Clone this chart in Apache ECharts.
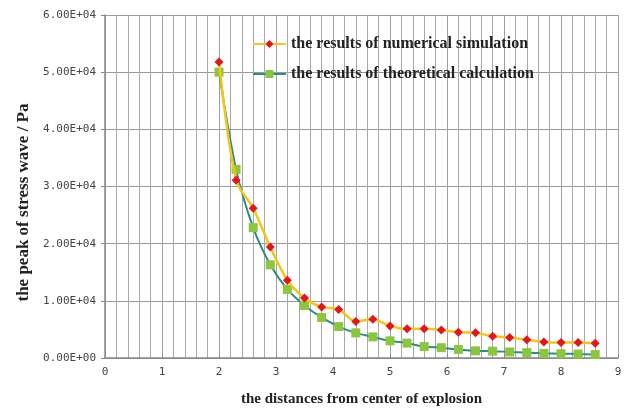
<!DOCTYPE html>
<html>
<head>
<meta charset="utf-8">
<script src="https://cdn.jsdelivr.net/npm/echarts@6/dist/echarts.min.js"></script>
<style>html,body{margin:0;padding:0;background:#fff}#c{width:625px;height:410px}</style>
</head>
<body>
<div id="c"></div>
<script>
const distances = [2, 2.3, 2.6, 2.9, 3.2, 3.5, 3.8, 4.1, 4.4, 4.7, 5.0, 5.3, 5.6, 5.9, 6.2, 6.5, 6.8, 7.1, 7.4, 7.7, 8.0, 8.3, 8.6];
const numerical = [51800, 31100, 26200, 19400, 13600, 10500, 8900, 8500, 6400, 6800, 5600, 5100, 5100, 4900, 4500, 4400, 3800, 3600, 3200, 2800, 2700, 2700, 2600];
const theoretical = [50000, 33000, 22800, 16300, 12000, 9200, 7100, 5500, 4400, 3700, 3000, 2600, 2000, 1800, 1500, 1250, 1200, 1050, 940, 820, 750, 700, 600];
const yTickLabels = ['0.00E+00', '1.00E+04', '2.00E+04', '3.00E+04', '4.00E+04', '5.00E+04', '6.00E+04'];
const xTickLabels = ['0', '1', '2', '3', '4', '5', '6', '7', '8', '9'];
const seriesNames = ['the results of numerical simulation', 'the results of theoretical calculation'];

const chart = echarts.init(document.getElementById('c'), null, {renderer: 'canvas'});
const serif = '"Liberation Serif", "Times New Roman", serif';
const mono = '"DejaVu Sans Mono", monospace';
chart.setOption({
  animation: false,
  backgroundColor: '#fff',
  grid: {left: 105, right: 7, top: 15, bottom: 52, containLabel: false, outerBoundsMode: 'none'},
  legend: {
    orient: 'vertical', left: 247, top: 31, itemWidth: 33, itemHeight: 10, itemGap: 14,
    textStyle: {fontFamily: serif, fontWeight: 'bold', fontSize: 16, color: '#222'},
    data: seriesNames
  },
  xAxis: {
    type: 'value', min: 0, max: 9, interval: 1,
    name: 'the distances from center of explosion', nameLocation: 'middle', nameGap: 34,
    nameTextStyle: {fontFamily: serif, fontWeight: 'bold', fontSize: 15, color: '#222'},
    axisLine: {lineStyle: {color: '#888', width: 1.5}},
    axisTick: {show: true, inside: true, length: 4, lineStyle: {color: '#888'}},
    axisLabel: {fontFamily: mono, fontSize: 11, color: '#444', margin: 9,
      formatter: v => xTickLabels[Math.round(v)] ?? ''},
    splitLine: {show: true, lineStyle: {color: '#a0a0a0', width: 1}},
    minorTick: {show: false, splitNumber: 5},
    minorSplitLine: {show: true, lineStyle: {color: '#a8a8a8', width: 1}}
  },
  yAxis: {
    type: 'value', min: 0, max: 60000, interval: 10000,
    name: 'the peak of stress wave / Pa', nameLocation: 'middle', nameGap: 66,
    nameTextStyle: {fontFamily: serif, fontWeight: 'bold', fontSize: 17, color: '#222', padding: [0, 32, 0, 0]},
    axisLine: {show: true, lineStyle: {color: '#888', width: 1.5}},
    axisTick: {show: true, inside: false, length: 4, lineStyle: {color: '#888'}},
    axisLabel: {fontFamily: mono, fontSize: 11, color: '#444', margin: 9,
      formatter: v => yTickLabels[Math.round(v / 10000)] ?? ''},
    splitLine: {show: true, lineStyle: {color: '#999', width: 1.2}}
  },
  series: [
    {
      name: seriesNames[0], type: 'line', smooth: 0.3,
      data: distances.map((d, i) => [d, numerical[i]]),
      symbol: 'diamond', symbolSize: 9,
      lineStyle: {color: '#F5C518', width: 2.5},
      itemStyle: {color: '#E8141B'},
      z: 3
    },
    {
      name: seriesNames[1], type: 'line', smooth: 0.3,
      data: distances.map((d, i) => [d, theoretical[i]]),
      symbol: 'rect', symbolSize: 9,
      lineStyle: {color: '#2E8B86', width: 2},
      itemStyle: {color: '#8CC63F'},
      z: 2
    }
  ]
});
</script>
</body>
</html>
